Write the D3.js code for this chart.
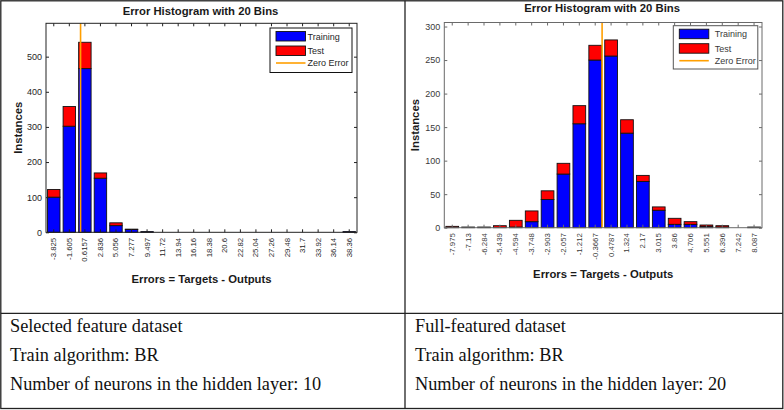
<!DOCTYPE html>
<html>
<head>
<meta charset="utf-8">
<script src="https://cdn.jsdelivr.net/npm/d3@7"></script>
<style>
    html, body { margin: 0; padding: 0; background: #fff; }
    svg { display: block; }
</style>
</head>
<body>
<script>
(function () {
    "use strict";

    // DATA
    var leftCenters = ["-3.825", "-1.605", "0.6157", "2.836", "5.056", "7.277", "9.497", "11.72", "13.94", "16.16",
        "18.38", "20.6", "22.82", "25.04", "27.26", "29.48", "31.7", "33.92", "36.14", "38.36"];
    var leftTraining = [100, 302, 466, 154, 19, 8, 2, 0, 0, 0, 0, 0, 0, 0, 0, 0, 0, 0, 0, 2];
    var leftTest = [22, 56, 75, 15, 8, 1, 0, 0, 0, 0, 0, 0, 0, 0, 0, 0, 0, 0, 0, 0];
    var leftYTicks = [0, 100, 200, 300, 400, 500];

    var rightCenters = ["-7.975", "-7.13", "-6.284", "-5.439", "-4.594", "-3.748", "-2.903", "-2.057", "-1.212", "-0.3667",
        "0.4787", "1.324", "2.17", "3.015", "3.86", "4.706", "5.551", "6.396", "7.242", "8.087"];
    var rightTraining = [0, 1, 1, 0, 1, 9, 42, 80, 155, 250, 256, 141, 69, 26, 5, 5, 2, 1, 0, 1];
    var rightTest = [2, 0, 0, 3, 10, 16, 13, 16, 27, 22, 24, 20, 9, 5, 9, 4, 2, 2, 0, 0];
    var rightYTicks = [0, 50, 100, 150, 200, 250, 300];

    var seriesNames = ["Training", "Test"];
    var zeroLabel = "Zero Error";
    var plotTitle = "Error Histogram with 20 Bins";
    var xTitle = "Errors = Targets - Outputs";
    var yTitle = "Instances";

    var leftCaption = ["Selected feature dataset", "Train algorithm: BR", "Number of neurons in the hidden layer: 10"];
    var rightCaption = ["Full-featured dataset", "Train algorithm: BR", "Number of neurons in the hidden layer: 20"];

    var width = 784, height = 410;
    var sans = "'Liberation Sans', Arial, sans-serif";
    var serif = "'Liberation Serif', 'Times New Roman', serif";

    var svg = d3.select("body").append("svg")
        .attr("width", width)
        .attr("height", height);

    svg.append("rect")
        .attr("width", width)
        .attr("height", height)
        .attr("fill", "white");

    function drawPanel(cfg) {
        var g = svg.append("g");
        var n = cfg.centers.length;

        var x = d3.scaleBand()
            .domain(d3.range(n))
            .range([cfg.left, cfg.right])
            .paddingInner(0.2)
            .paddingOuter(0.1);

        // numeric scale through the bin centres, for the zero line
        var xv = d3.scaleLinear()
            .domain([+cfg.centers[0], +cfg.centers[n - 1]])
            .range([x(0) + x.bandwidth() / 2, x(n - 1) + x.bandwidth() / 2]);

        var y = d3.scaleLinear()
            .domain([0, cfg.yMax])
            .range([cfg.bottom, cfg.top]);

        var rows = d3.range(n).map(function (i) {
            return {i: i, Training: cfg.training[i], Test: cfg.test[i]};
        });
        var stacked = d3.stack().keys(seriesNames)(rows);
        var colors = {Training: "#0000ff", Test: "#ff0000"};

        // bars
        stacked.forEach(function (layer) {
            g.append("g")
                .selectAll("rect")
                .data(layer)
                .join("rect")
                .attr("x", function (d) { return x(d.data.i); })
                .attr("width", x.bandwidth())
                .attr("y", function (d) { return y(d[1]); })
                .attr("height", function (d) { return y(d[0]) - y(d[1]); })
                .attr("fill", colors[layer.key])
                .attr("stroke", "#111")
                .attr("stroke-width", 0.9);
        });

        // zero error line
        g.append("line")
            .attr("x1", xv(0)).attr("x2", xv(0))
            .attr("y1", cfg.bottom).attr("y2", cfg.top)
            .attr("stroke", "#ff9f00")
            .attr("stroke-width", 1.6);

        // axes, ticks pointing inward on all four sides
        var yLeft = g.append("g")
            .attr("transform", "translate(" + cfg.left + ",0)")
            .call(d3.axisLeft(y).tickValues(cfg.yTicks).tickSize(-3).tickSizeOuter(0).tickPadding(4));
        g.append("g")
            .attr("transform", "translate(" + cfg.right + ",0)")
            .call(d3.axisRight(y).tickValues(cfg.yTicks).tickSize(-3).tickSizeOuter(0).tickFormat(""));
        g.append("g")
            .attr("transform", "translate(0," + cfg.top + ")")
            .call(d3.axisTop(x).tickSize(-3).tickSizeOuter(0).tickFormat(""));
        var xBottom = g.append("g")
            .attr("transform", "translate(0," + cfg.bottom + ")")
            .call(d3.axisBottom(x).tickSize(-3).tickSizeOuter(0)
                .tickFormat(function (i) { return cfg.centers[i]; }));

        g.selectAll(".domain").remove();
        g.selectAll(".tick line").attr("stroke", cfg.axisColor);

        yLeft.selectAll("text")
            .attr("font-family", sans)
            .attr("font-size", 9)
            .attr("fill", cfg.textColor);

        xBottom.selectAll("text")
            .attr("font-family", sans)
            .attr("font-size", 7.8)
            .attr("fill", cfg.textColor)
            .attr("text-anchor", "end")
            .attr("dy", null)
            .attr("y", null)
            .attr("dominant-baseline", "central")
            .attr("transform", "translate(0,5.5) rotate(-90)");

        g.append("rect")
            .attr("x", cfg.left)
            .attr("y", cfg.top)
            .attr("width", cfg.right - cfg.left)
            .attr("height", cfg.bottom - cfg.top)
            .attr("fill", "none")
            .attr("stroke", cfg.axisColor)
            .attr("stroke-width", 1);

        // titles
        var mid = (cfg.left + cfg.right) / 2;
        g.append("text")
            .attr("x", mid - 1)
            .attr("y", cfg.titleY)
            .attr("text-anchor", "middle")
            .attr("font-family", sans)
            .attr("font-weight", "bold")
            .attr("font-size", 11.3)
            .attr("fill", "#1a1a1a")
            .text(plotTitle);

        g.append("text")
            .attr("x", mid)
            .attr("y", cfg.xTitleY)
            .attr("text-anchor", "middle")
            .attr("font-family", sans)
            .attr("font-weight", "bold")
            .attr("font-size", 11.3)
            .attr("fill", "#1a1a1a")
            .text(xTitle);

        g.append("text")
            .attr("transform", "translate(" + cfg.yTitleX + "," + ((cfg.top + cfg.bottom) / 2) + ") rotate(-90)")
            .attr("text-anchor", "middle")
            .attr("font-family", sans)
            .attr("font-weight", "bold")
            .attr("font-size", 11.3)
            .attr("fill", "#1a1a1a")
            .text(yTitle);

        // legend
        var lg = g.append("g")
            .attr("transform", "translate(" + cfg.legend.x + "," + cfg.legend.y + ")");
        lg.append("rect")
            .attr("width", cfg.legend.w)
            .attr("height", cfg.legend.h)
            .attr("fill", "white")
            .attr("stroke", cfg.legendStroke)
            .attr("stroke-width", 1);

        seriesNames.forEach(function (name, k) {
            lg.append("rect")
                .attr("x", 6)
                .attr("y", 3.5 + k * 14.5)
                .attr("width", 29.5)
                .attr("height", 9.5)
                .attr("fill", colors[name])
                .attr("stroke", "#111")
                .attr("stroke-width", 0.9);
            lg.append("text")
                .attr("x", cfg.legend.textX)
                .attr("y", 8.5 + k * 14.5)
                .attr("dominant-baseline", "central")
                .attr("font-family", sans)
                .attr("font-size", 9)
                .attr("fill", cfg.textColor)
                .text(name);
        });
        lg.append("line")
            .attr("x1", 6).attr("x2", 35.5)
            .attr("y1", 35).attr("y2", 35)
            .attr("stroke", "#ff9f00")
            .attr("stroke-width", 1.6);
        lg.append("text")
            .attr("x", cfg.legend.textX)
            .attr("y", 35)
            .attr("dominant-baseline", "central")
            .attr("font-family", sans)
            .attr("font-size", 9)
            .attr("fill", cfg.textColor)
            .text(zeroLabel);
    }

    drawPanel({
        centers: leftCenters, training: leftTraining, test: leftTest, yTicks: leftYTicks,
        left: 46, right: 357, top: 23.3, bottom: 232.3, yMax: 595,
        titleY: 15, xTitleY: 283, yTitleX: 21.5,
        axisColor: "#222", textColor: "#262626", legendStroke: "#111",
        legend: {x: 270, y: 28, w: 82, h: 44.5, textX: 37.5}
    });

    drawPanel({
        centers: rightCenters, training: rightTraining, test: rightTest, yTicks: rightYTicks,
        left: 444.3, right: 762, top: 22.5, bottom: 227.7, yMax: 306,
        titleY: 12, xTitleY: 278, yTitleX: 419,
        axisColor: "#6a6a6a", textColor: "#3a3a3a", legendStroke: "#555",
        legend: {x: 673.3, y: 25.7, w: 84.5, h: 43.3, textX: 41.5}
    });

    // table grid
    var grid = svg.append("g")
        .attr("stroke", "#222")
        .attr("stroke-width", 1.3)
        .attr("fill", "none");
    grid.append("rect")
        .attr("x", 0.8).attr("y", 0.8)
        .attr("width", 782).attr("height", 407.7);
    grid.append("line")
        .attr("x1", 405).attr("x2", 405)
        .attr("y1", 0.8).attr("y2", 408.5);
    grid.append("line")
        .attr("x1", 0.8).attr("x2", 782.8)
        .attr("y1", 313.3).attr("y2", 313.3);

    // captions
    [[leftCaption, 10], [rightCaption, 415]].forEach(function (col) {
        svg.append("g")
            .selectAll("text")
            .data(col[0])
            .join("text")
            .attr("x", col[1])
            .attr("y", function (d, i) { return 332 + i * 29; })
            .attr("font-family", serif)
            .attr("font-size", 18.3)
            .attr("fill", "#111")
            .text(function (d) { return d; });
    });
})();
</script>
</body>
</html>
